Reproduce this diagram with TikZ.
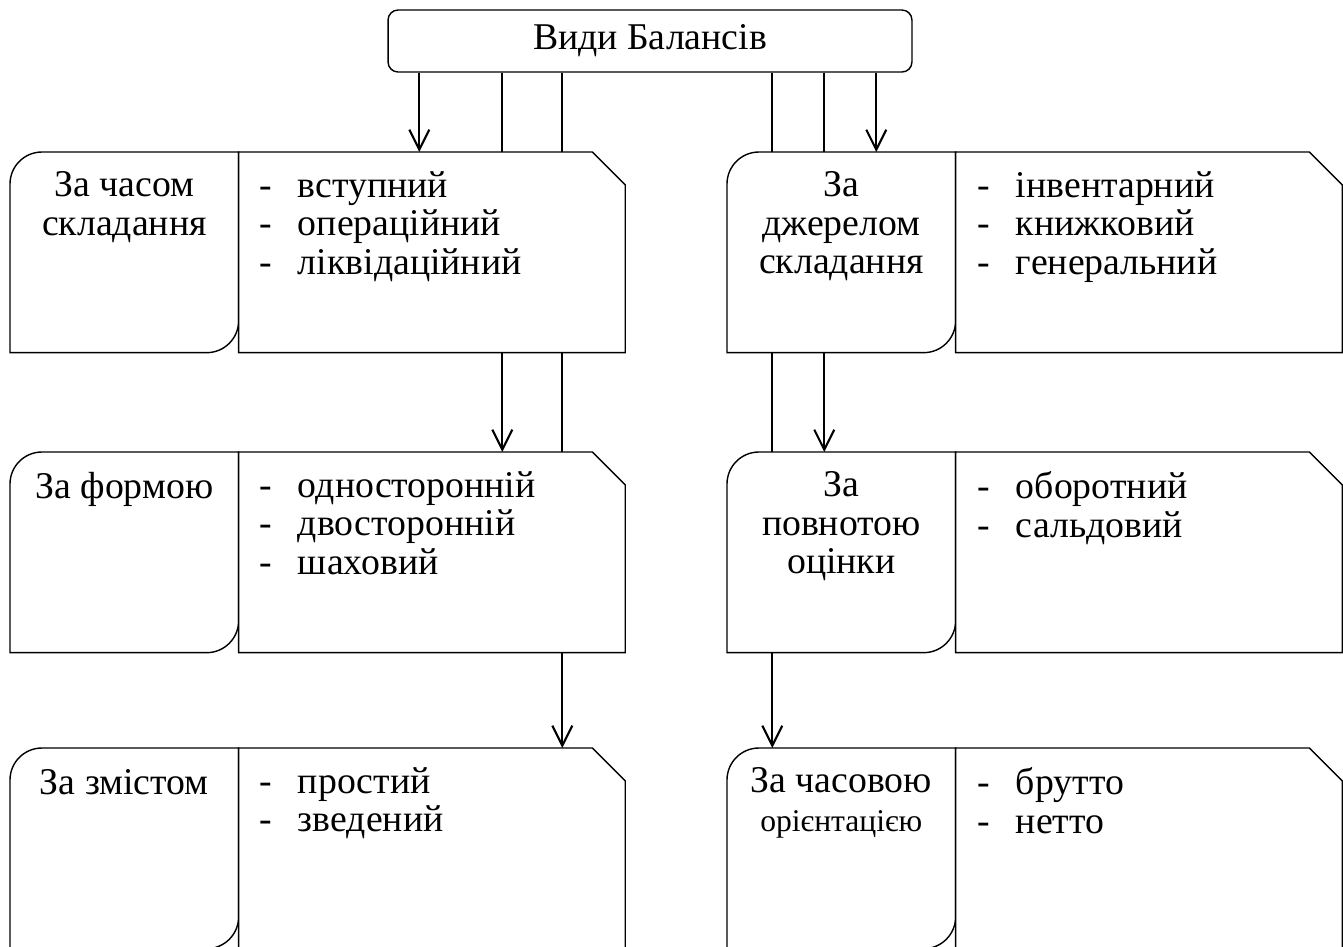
\documentclass[tikz,border=0pt]{standalone}
\usepackage{fontspec}
\setmainfont{Liberation Serif}
\usetikzlibrary{arrows.meta,positioning,backgrounds}
\tikzset{
    %Define standard arrow tip
    >={Straight Barb[length=0.4cm,width=0.4cm]},
    %Define style for boxes
    topbox/.style={
           rectangle,
           rounded corners=0.2cm,
           draw=black, line width=0.8pt,
           minimum width=10.48cm,
           minimum height=1.24cm,
           font=\fontsize{21.5}{22}\selectfont},
    headbox/.style={
           rectangle, anchor=north west, inner sep=0pt,
           minimum width=4.56cm, minimum height=4cm},
    listbox/.style={
           rectangle, anchor=north west, inner sep=0pt,
           minimum width=7.72cm, minimum height=4cm},
    headtxt/.style={
           anchor=north, align=center, inner sep=0pt,
           execute at begin node=\strut,
           font=\fontsize{21.5}{22}\selectfont},
    listtxt/.style={
           anchor=north west, align=left, inner sep=0pt,
           execute at begin node=\strut,
           font=\fontsize{21.5}{22}\selectfont},
    outline/.style={
           draw=black, line width=0.8pt, fill=white},
    % Define arrow style
    arr/.style={
           ->,
           line width=1.2pt}
}
\newcommand{\itm}{\makebox[0.78cm][l]{-}}

\begin{document}
\begin{tikzpicture}[x=0.02cm, y=0.02cm]
    \useasboundingbox (0,0) rectangle (1343,-947);

    % TOP
    \node[topbox] (kinds) at (650,-41) {Види Балансів};

    % CARDS
    \node[headbox] (time) at (10,-152) {};
    \node[listbox] (timel) at (time.north east) {};
    \node[headbox] (form) at (10,-452) {};
    \node[listbox] (forml) at (form.north east) {};
    \node[headbox] (content) at (10,-748) {};
    \node[listbox] (contentl) at (content.north east) {};
    \node[headbox] (source) at (727,-152) {};
    \node[listbox] (sourcel) at (source.north east) {};
    \node[headbox] (complete) at (727,-452) {};
    \node[listbox] (completel) at (complete.north east) {};
    \node[headbox] (orient) at (727,-748) {};
    \node[listbox] (orientl) at (orient.north east) {};

    \foreach \h/\l in {time/timel, form/forml, content/contentl,
                       source/sourcel, complete/completel, orient/orientl} {
        \draw[outline] (\h.south west) -- ([yshift=-0.64cm]\h.north west)
            arc[start angle=180, end angle=90, radius=0.64cm]
            -- (\h.north east) -- ([yshift=0.64cm]\h.south east)
            arc[start angle=0, end angle=-90, radius=0.64cm] -- cycle;
        \draw[outline] (\l.north west) -- ([xshift=-0.66cm]\l.north east)
            -- ([yshift=-0.66cm]\l.north east) -- (\l.south east)
            -- (\l.south west) -- cycle;
    }

    % TEXTS
    \node[headtxt] (timet) at ([yshift=-0.38cm]time.north) {За часом\\складання};
    \node[listtxt] (timei) at ([xshift=0.4cm,yshift=-0.38cm]timel.north west)
        {\itm вступний\\\itm операційний\\\itm ліквідаційний};
    \node[headtxt] (formt) at ([yshift=-0.38cm]form.north) {За формою};
    \node[listtxt] (formi) at ([xshift=0.4cm,yshift=-0.38cm]forml.north west)
        {\itm односторонній\\\itm двосторонній\\\itm шаховий};
    \node[headtxt] (contentt) at ([yshift=-0.38cm]content.north) {За змістом};
    \node[listtxt] (contenti) at ([xshift=0.4cm,yshift=-0.38cm]contentl.north west)
        {\itm простий\\\itm зведений};
    \node[headtxt] (sourcet) at ([yshift=-0.38cm]source.north) {За\\джерелом\\складання};
    \node[listtxt] (sourcei) at ([xshift=0.42cm,yshift=-0.38cm]sourcel.north west)
        {\itm інвентарний\\\itm книжковий\\\itm генеральний};
    \node[headtxt] (completet) at ([yshift=-0.38cm]complete.north) {За\\повнотою\\оцінки};
    \node[listtxt] (completei) at ([xshift=0.42cm,yshift=-0.38cm]completel.north west)
        {\itm оборотний\\\itm сальдовий};
    \node[headtxt] (orientt) at ([yshift=-0.38cm]orient.north)
        {За часовою\\{\fontsize{18}{20}\selectfont орієнтацією}};
    \node[listtxt] (orienti) at ([xshift=0.42cm,yshift=-0.38cm]orientl.north west)
        {\itm брутто\\\itm нетто};

    % CONNECTORS
    \coordinate (k1) at ([xshift=0.64cm]kinds.south west);
    \coordinate (k2) at ([xshift=2.3cm]kinds.south west);
    \coordinate (k3) at ([xshift=3.5cm]kinds.south west);
    \coordinate (k4) at ([xshift=7.7cm]kinds.south west);
    \coordinate (k5) at ([xshift=8.74cm]kinds.south west);
    \coordinate (k6) at ([xshift=9.78cm]kinds.south west);
    \begin{scope}[on background layer]
        \draw[arr] (k1) -- (k1 |- time.north);
        \draw[arr] (k2) -- (k2 |- form.north);
        \draw[arr] (k3) -- (k3 |- content.north);
        \draw[arr] (k4) -- (k4 |- orient.north);
        \draw[arr] (k5) -- (k5 |- complete.north);
        \draw[arr] (k6) -- (k6 |- source.north);
    \end{scope}
\end{tikzpicture}
\end{document}
